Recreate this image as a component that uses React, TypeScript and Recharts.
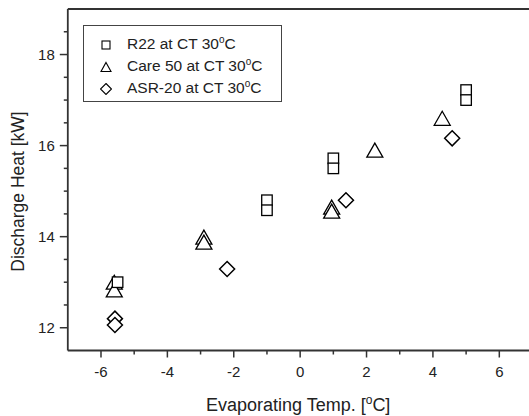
import { ScatterChart, Scatter, XAxis, YAxis, ZAxis, ReferenceLine } from "recharts";

// evaporating temp (°C) / discharge heat (kW)
const r22X = [-5.5, -1.0, -1.0, 1.0, 1.0, 5.0, 5.0];
const r22Y = [13.0, 14.8, 14.58, 15.72, 15.5, 17.22, 17.0];

const care50X = [-5.6, -5.6, -2.9, -2.9, 0.95, 0.95, 2.25, 4.28];
const care50Y = [13.0, 12.83, 13.99, 13.88, 14.65, 14.56, 15.9, 16.6];

const asr20X = [-5.58, -5.58, -2.2, 1.38, 4.58];
const asr20Y = [12.2, 12.06, 13.29, 14.8, 16.16];

const xTicks = [-6, -5, -4, -3, -2, -1, 0, 1, 2, 3, 4, 5, 6];
const xLabels = [-6, -4, -2, 0, 2, 4, 6];
const yTicks = [12, 12.5, 13, 13.5, 14, 14.5, 15, 15.5, 16, 16.5, 17, 17.5, 18, 18.5];
const yLabels = [12, 14, 16, 18];

const seriesNames = ["R22 at CT 30", "Care 50 at CT 30", "ASR-20 at CT 30"];

const zip = (xs: number[], ys: number[]) => xs.map((x, i) => ({ x, y: ys[i] }));

const FONT = "'Liberation Sans', Arial, sans-serif";
const AXIS = "#333";

const Square = ({ cx, cy, s = 10.5 }: any) => (
  <rect x={cx - s / 2} y={cy - s / 2} width={s} height={s} fill="#fff" stroke="#000" strokeWidth={1.3} />
);

const Triangle = ({ cx, cy, w = 16, h = 14 }: any) => (
  <path
    d={`M${cx},${cy - h / 2} L${cx + w / 2},${cy + h / 2} L${cx - w / 2},${cy + h / 2} Z`}
    fill="#fff"
    stroke="#000"
    strokeWidth={1.3}
  />
);

const Diamond = ({ cx, cy, r = 7.5 }: any) => (
  <path
    d={`M${cx},${cy - r} L${cx + r},${cy} L${cx},${cy + r} L${cx - r},${cy} Z`}
    fill="#fff"
    stroke="#000"
    strokeWidth={1.5}
  />
);

const XTick = ({ x, y, payload }: any) => {
  const major = xLabels.includes(payload.value);
  return (
    <g>
      <line x1={x} x2={x} y1={y} y2={y + (major ? 7 : 4)} stroke={AXIS} strokeWidth={1.5} />
      {major && (
        <text x={x} y={y + 26} textAnchor="middle" fontSize={15} fontFamily={FONT} fill="#222">
          {payload.value}
        </text>
      )}
    </g>
  );
};

const YTick = ({ x, y, payload }: any) => {
  const major = yLabels.includes(payload.value);
  return (
    <g>
      <line x1={x - (major ? 8 : 4)} x2={x} y1={y} y2={y} stroke={AXIS} strokeWidth={1.5} />
      {major && (
        <text x={x - 13} y={y + 5.5} textAnchor="end" fontSize={15} fontFamily={FONT} fill="#222">
          {payload.value}
        </text>
      )}
    </g>
  );
};

const XTitle = ({ viewBox }: any) => (
  <text x={viewBox.x + viewBox.width / 2 - 2} y={viewBox.y + 60} textAnchor="middle" fontSize={18} fontFamily={FONT} fill="#222">
    Evaporating Temp. [<tspan dy={-7} fontSize={12}>o</tspan>
    <tspan dy={7}>C]</tspan>
  </text>
);

const YTitle = () => (
  <text
    x={18}
    y={191.5}
    transform="rotate(-90 18 191.5)"
    textAnchor="middle"
    dominantBaseline="central"
    fontSize={17.5}
    fontFamily={FONT}
    fill="#222"
  >
    Discharge Heat [kW]
  </text>
);

const legendIcons = [
  <svg width={12} height={12} key="s"><rect x={2} y={2} width={8} height={8} fill="#fff" stroke="#000" strokeWidth={1.1} /></svg>,
  <svg width={12} height={12} key="t"><path d="M6,1.5 L11,10.5 L1,10.5 Z" fill="#fff" stroke="#000" strokeWidth={1.1} /></svg>,
  <svg width={12} height={12} key="d"><path d="M6,0.5 L11.5,6 L6,11.5 L0.5,6 Z" fill="#fff" stroke="#000" strokeWidth={1.1} /></svg>,
];

export default function App() {
  return (
    <div style={{ position: "absolute", left: 0, top: 0, width: 529, height: 416, overflow: "hidden", background: "#fff", fontFamily: FONT }}>
      <ScatterChart width={540} height={416} margin={{ top: 9, right: 7.5, left: 7.8, bottom: 0 }}>
        <XAxis
          type="number"
          dataKey="x"
          domain={[-7, 7]}
          ticks={xTicks}
          interval={0}
          allowDataOverflow
          height={65.5}
          tickSize={0}
          tickMargin={0}
          tickLine={false}
          tick={<XTick />}
          axisLine={{ stroke: AXIS, strokeWidth: 1.8 }}
          label={<XTitle />}
        />
        <YAxis
          type="number"
          dataKey="y"
          domain={[11.5, 19]}
          ticks={yTicks}
          interval={0}
          allowDataOverflow
          width={60}
          tickSize={0}
          tickMargin={0}
          tickLine={false}
          tick={<YTick />}
          axisLine={{ stroke: AXIS, strokeWidth: 1.8 }}
          label={<YTitle />}
        />
        <ZAxis range={[100, 100]} />
        <ReferenceLine y={19} stroke={AXIS} strokeWidth={1.8} ifOverflow="extendDomain" />
        <Scatter name={seriesNames[1]} data={zip(care50X, care50Y)} shape={<Triangle />} isAnimationActive={false} />
        <Scatter name={seriesNames[0]} data={zip(r22X, r22Y)} shape={<Square />} isAnimationActive={false} />
        <Scatter name={seriesNames[2]} data={zip(asr20X, asr20Y)} shape={<Diamond />} isAnimationActive={false} />
      </ScatterChart>
      <div
        style={{
          position: "absolute",
          left: 83,
          top: 25,
          width: 199,
          height: 77,
          border: "1px solid #444",
          boxSizing: "border-box",
          paddingTop: 8,
          fontSize: 15.5,
          color: "#222",
        }}
      >
        {seriesNames.map((name, i) => (
          <div key={name} style={{ display: "flex", alignItems: "center", height: 22, lineHeight: "22px" }}>
            <div style={{ width: 12, height: 12, marginLeft: 16, marginRight: 15, display: "flex" }}>{legendIcons[i]}</div>
            <span>
              {name}
              <span style={{ fontSize: 10, position: "relative", top: -6 }}>o</span>C
            </span>
          </div>
        ))}
      </div>
    </div>
  );
}
